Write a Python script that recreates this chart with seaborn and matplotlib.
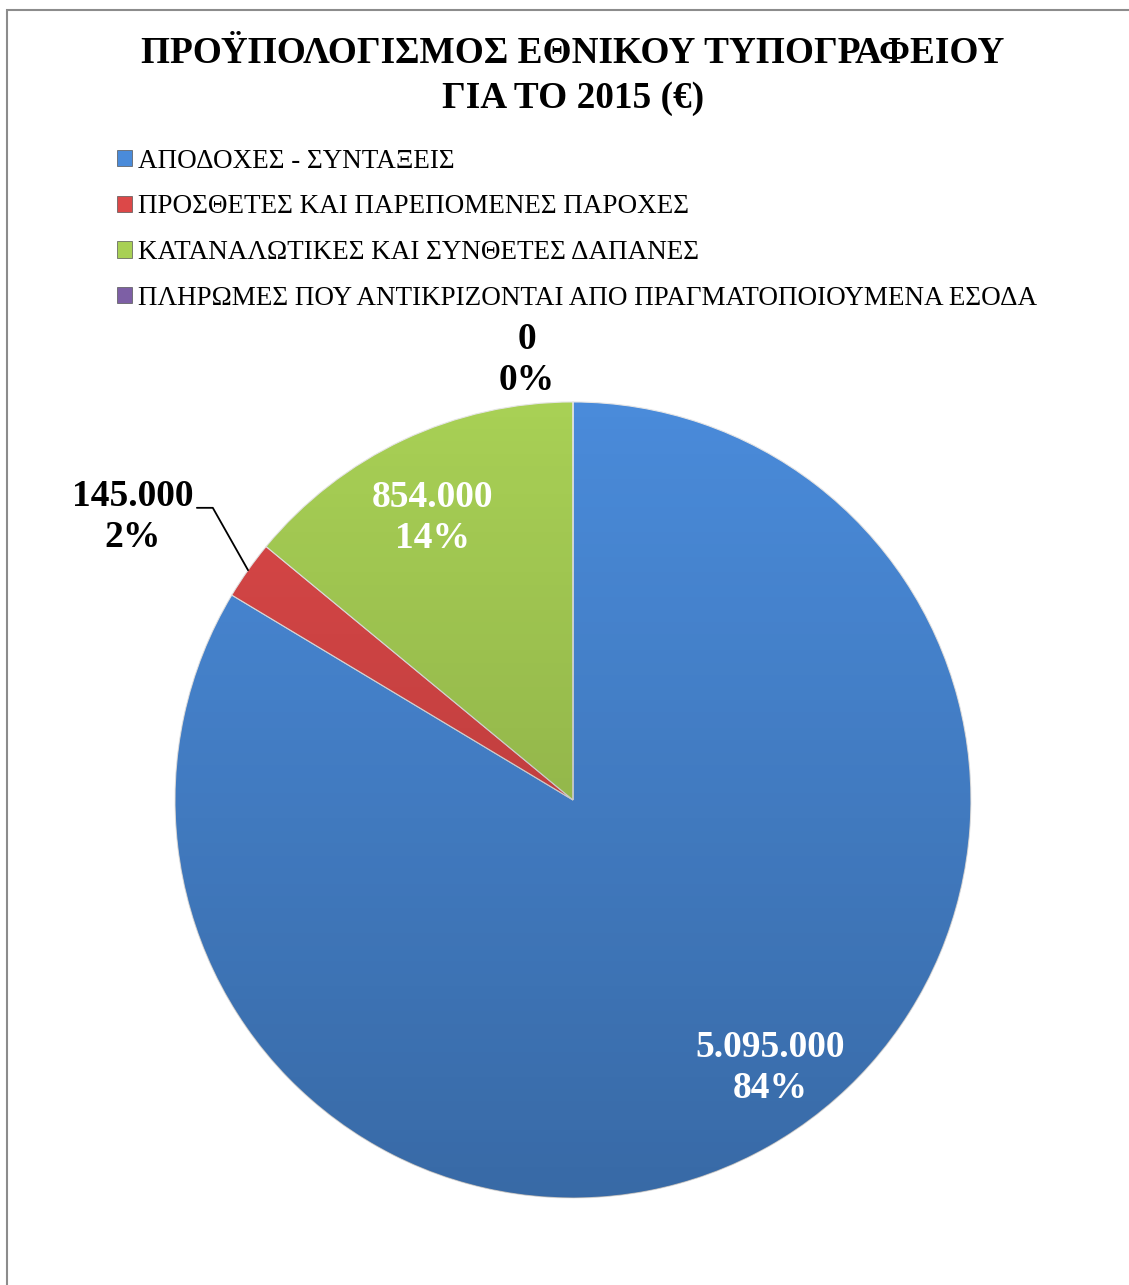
import matplotlib
matplotlib.use('Agg')
import matplotlib.pyplot as plt
import seaborn as sns
import numpy as np
from matplotlib.patches import Patch, Rectangle, Circle

categories = ['ΑΠΟΔΟΧΕΣ - ΣΥΝΤΑΞΕΙΣ',
              'ΠΡΟΣΘΕΤΕΣ ΚΑΙ ΠΑΡΕΠΟΜΕΝΕΣ ΠΑΡΟΧΕΣ',
              'ΚΑΤΑΝΑΛΩΤΙΚΕΣ ΚΑΙ ΣΥΝΘΕΤΕΣ ΔΑΠΑΝΕΣ',
              'ΠΛΗΡΩΜΕΣ ΠΟΥ ΑΝΤΙΚΡΙΖΟΝΤΑΙ ΑΠΟ ΠΡΑΓΜΑΤΟΠΟΙΟΥΜΕΝΑ ΕΣΟΔΑ']
values = [5095000, 145000, 854000, 0]
value_labels = ['5.095.000', '145.000', '854.000', '0']
pct_labels = ['84%', '2%', '14%', '0%']
colors = ['#4a8bda', '#dc4848', '#a8d055', '#7d5fa5']
title = 'ΠΡΟΫΠΟΛΟΓΙΣΜΟΣ ΕΘΝΙΚΟΥ ΤΥΠΟΓΡΑΦΕΙΟΥ\nΓΙΑ ΤΟ 2015 (€)'

sns.set_theme(style='white')
plt.rcParams['font.family'] = ['Liberation Serif', 'DejaVu Serif']
plt.rcParams['text.color'] = 'black'

fig = plt.figure(figsize=(11.29, 12.85), dpi=100)
fig.patches.append(Rectangle((7 / 1129, -0.05), 1.2, 1 - 10 / 1285 + 0.05,
                             transform=fig.transFigure, fill=False,
                             edgecolor='#8c8c8c', linewidth=1.5))

ax = fig.add_axes([0.155, 0.0677, 0.705, 0.6195])
wedges, _ = ax.pie(values, colors=colors, startangle=90, counterclock=False,
                   wedgeprops=dict(edgecolor='#e6e6e6', linewidth=0.8))
ax.set_xlim(-1, 1)
ax.set_ylim(-1, 1)
ax.set_aspect('equal')
ax.axis('off')

# soft shading, lighter at top and darker at the bottom (bevel look)
grad = np.linspace(0, 1, 256).reshape(-1, 1)
shade = np.zeros((256, 1, 4))
shade[..., 3] = 0.24 * grad
im = ax.imshow(shade, extent=(-1, 1, -1, 1), origin='upper', aspect='auto', zorder=2)
im.set_clip_path(Circle((0, 0), 1, transform=ax.transData))

# label positions (data coords, radius = 1)
label_pos = [(0.495, -0.673), (-1.106, 0.711), (-0.352, 0.709), (-0.116, 1.106)]
label_col = ['white', 'black', 'white', 'black']
for i, w in enumerate(wedges):
    ax.text(label_pos[i][0], label_pos[i][1], value_labels[i] + '\n' + pct_labels[i],
            ha='center', va='center', fontsize=27, fontweight='bold',
            color=label_col[i], linespacing=1.22, clip_on=False, zorder=5)

# leader line for the small red slice
w = wedges[1]
mid = np.deg2rad((w.theta1 + w.theta2) / 2)
ex, ey = np.cos(mid), np.sin(mid)
ax.plot([-0.945, -0.905, ex], [0.734, 0.734, ey], color='black', lw=1.3, clip_on=False)

fig.text(0.5075, 1 - 76 / 1285, title, ha='center', va='center', fontsize=26.8,
         fontweight='bold', linespacing=1.38, color='black')

handles = [Patch(facecolor=c, edgecolor='#555555', linewidth=0.5) for c in colors]
fig.legend(handles, categories, loc='upper left',
           bbox_to_anchor=(106 / 1129, 1 - 138 / 1285), frameon=False,
           fontsize=19.5, handlelength=0.55, handleheight=0.55, handletextpad=0.25,
           labelspacing=0.76, borderaxespad=0, labelcolor='black')

fig.savefig('out.png', dpi=100)
